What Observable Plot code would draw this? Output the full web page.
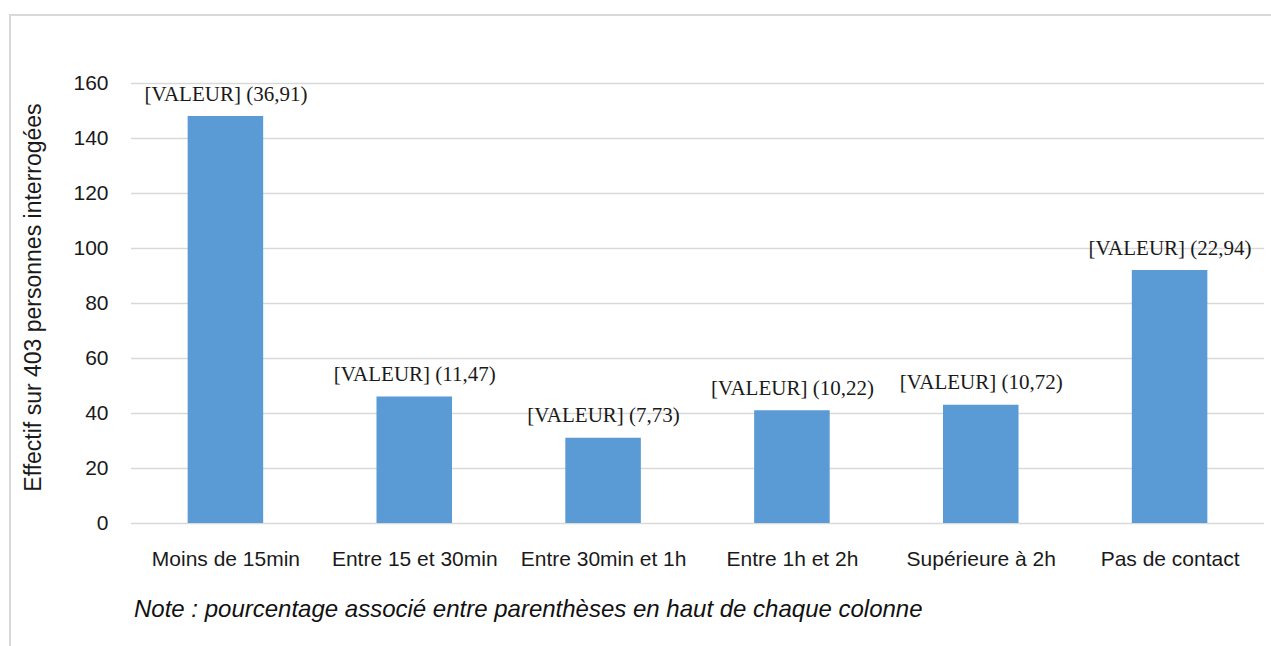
<!DOCTYPE html>
<html><head><meta charset="utf-8">
<script src="https://cdn.jsdelivr.net/npm/d3@7"></script>
<script src="https://cdn.jsdelivr.net/npm/@observablehq/plot@0.6"></script>
<style>
html,body{margin:0;padding:0;overflow:hidden;background:#fff;width:1271px;height:646px}
#wrap{position:relative;width:1271px;height:646px}
#frame{position:absolute;left:9px;top:14px;width:1300px;height:700px;border:2px solid #d9d9d9;box-sizing:border-box}
#chart{position:absolute;left:0;top:0}
#note{position:absolute;left:134px;top:597px;font:italic 24px "Liberation Sans", Arial, sans-serif;line-height:1;color:#111;white-space:nowrap}
</style></head><body>
<div id="wrap"><div id="frame"></div><div id="chart"></div><div id="note"></div></div>
<script>
const categories = ["Moins de 15min", "Entre 15 et 30min", "Entre 30min et 1h", "Entre 1h et 2h", "Supérieure à 2h", "Pas de contact"];
const counts = [148, 46, 31, 41, 43, 92];
const percents = ["36,91", "11,47", "7,73", "10,22", "10,72", "22,94"];
const yTicks = [0, 20, 40, 60, 80, 100, 120, 140, 160];
const yTitle = "Effectif sur 403 personnes interrogées";
const noteText = "Note : pourcentage associé entre parenthèses en haut de chaque colonne";

const data = categories.map((c, i) => ({category: c, count: counts[i], pct: percents[i]}));

const chart = Plot.plot({
  width: 1271, height: 590,
  marginTop: 83, marginBottom: 67, marginLeft: 131, marginRight: 7,
  style: {background: "transparent", fontFamily: "Liberation Sans, Arial, sans-serif", fontSize: "21px", color: "#1a1a1a", overflow: "visible"},
  x: {domain: categories, paddingInner: 0.6, paddingOuter: 0.3, round: false},
  y: {domain: [0, 160]},
  marks: [
    Plot.ruleY(yTicks, {stroke: "#d9d9d9", strokeWidth: 1.5}),
    Plot.barY(data, {x: "category", y: "count", fill: "#5b9bd5"}),
    Plot.text(data, {x: "category", y: "count", text: d => `[VALEUR] (${d.pct})`, dy: -16, lineAnchor: "bottom", fontFamily: "Liberation Serif, Times New Roman, serif", fontSize: 21, fill: "#1a1a1a"}),
    Plot.axisX({tickSize: 0, tickPadding: 28, label: null}),
    Plot.axisY({ticks: yTicks, tickSize: 0, tickPadding: 23, label: null}),
    Plot.text([yTitle], {frameAnchor: "left", dx: -98, dy: -6, rotate: -90, fontSize: 23, lineAnchor: "middle", textAnchor: "middle", fill: "#1a1a1a"})
  ]
});
document.getElementById("chart").appendChild(chart);
document.getElementById("note").textContent = noteText;
</script>
</body></html>
